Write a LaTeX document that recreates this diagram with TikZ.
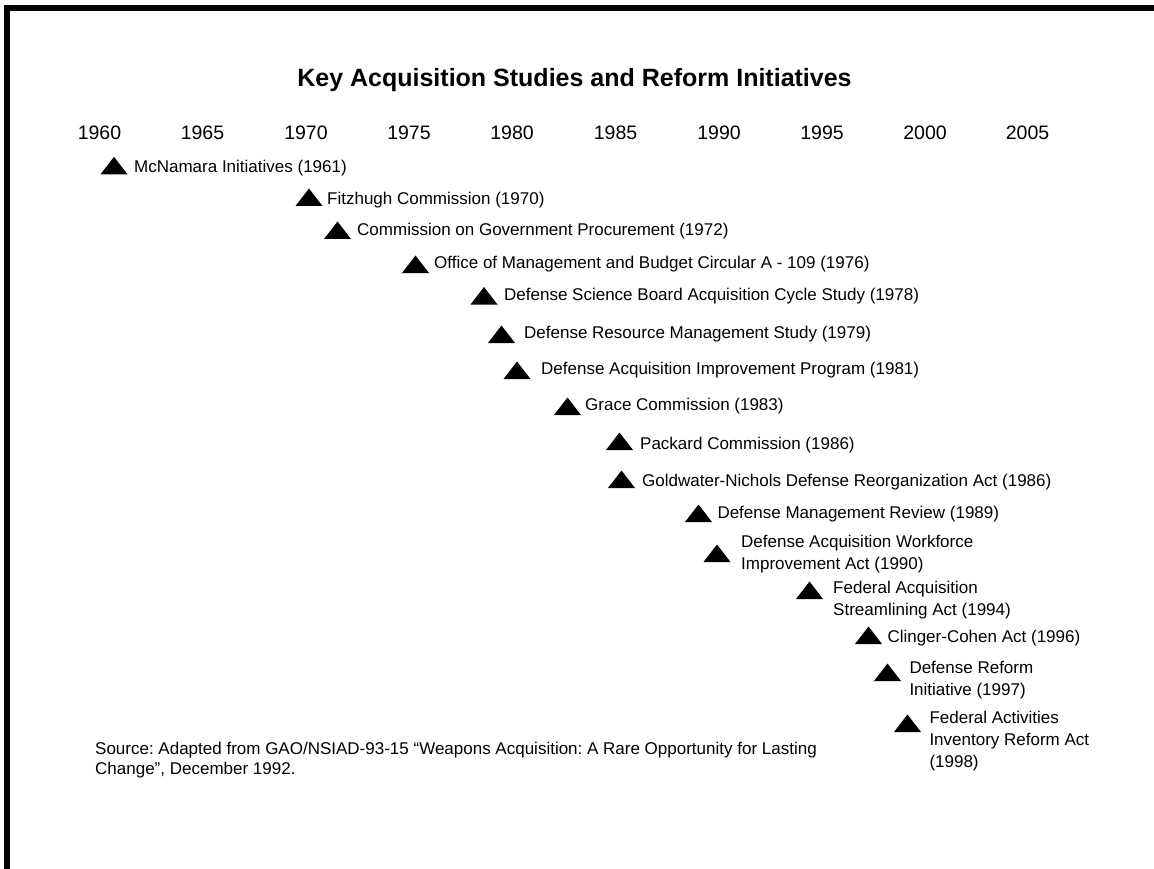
\documentclass[tikz,border=0pt]{standalone}
\usepackage{fontspec}
\setmainfont{Liberation Sans}
\newcommand\mlines[1]{\begin{tabular}[t]{@{}l@{}}#1\end{tabular}}
\begin{document}
\frenchspacing
\begin{tikzpicture}[x=1pt,y=-1pt,
  lbl/.style={font=\fontsize{17}{22}\selectfont, inner sep=0pt, anchor=base west},
  yr/.style={font=\fontsize{19.5}{23}\selectfont, inner sep=0pt, anchor=base},
  tri/.pic={\fill[black] (-13.5,0) -- (0,-17.5) -- (13.5,0) -- cycle;}]
\useasboundingbox (0,0) rectangle (1154,869);
\fill[white] (0,0) rectangle (1154,869);
\draw[line width=6pt] (7,869) -- (7,8) -- (1154,8);

\node[font=\bfseries\fontsize{25}{30}\selectfont, inner sep=0pt, anchor=base] (title) at (574.5,87) {Key Acquisition Studies and Reform Initiatives};

\node[yr] (y1960) at (99.5,139.5) {1960};
\node[yr] (y1965) at (202.5,139.5) {1965};
\node[yr] (y1970) at (306,139.5) {1970};
\node[yr] (y1975) at (409,139.5) {1975};
\node[yr] (y1980) at (512,139.5) {1980};
\node[yr] (y1985) at (615.5,139.5) {1985};
\node[yr] (y1990) at (719,139.5) {1990};
\node[yr] (y1995) at (822,139.5) {1995};
\node[yr] (y2000) at (925,139.5) {2000};
\node[yr] (y2005) at (1027.5,139.5) {2005};

\pic (t1) at (114,174.3) {tri};
\node[lbl] (l1) at (134,172.7) {McNamara Initiatives (1961)};
\pic (t2) at (309,206) {tri};
\node[lbl] (l2) at (327,205) {Fitzhugh Commission (1970)};
\pic (t3) at (337.5,239) {tri};
\node[lbl] (l3) at (357,235.5) {Commission on Government Procurement (1972)};
\pic (t4) at (415.5,273) {tri};
\node[lbl] (l4) at (434,268.5) {Office of Management and Budget Circular A - 109 (1976)};
\pic (t5) at (484,304.5) {tri};
\node[lbl] (l5) at (504,300.5) {Defense Science Board Acquisition Cycle Study (1978)};
\pic (t6) at (501.5,343) {tri};
\node[lbl] (l6) at (524,338.3) {Defense Resource Management Study (1979)};
\pic (t7) at (517,379) {tri};
\node[lbl] (l7) at (541,374) {Defense Acquisition Improvement Program (1981)};
\pic (t8) at (567.5,415) {tri};
\node[lbl] (l8) at (585,410.7) {Grace Commission (1983)};
\pic (t9) at (619.5,450) {tri};
\node[lbl] (l9) at (640,449.3) {Packard Commission (1986)};
\pic (t10) at (621.5,488) {tri};
\node[lbl] (l10) at (642,486.7) {Goldwater-Nichols Defense Reorganization Act (1986)};
\pic (t11) at (698.5,522) {tri};
\node[lbl] (l11) at (717.3,518.3) {Defense Management Review (1989)};
\pic (t12) at (717,562) {tri};
\node[lbl] (l12) at (741,547) {\mlines{Defense Acquisition Workforce\\Improvement Act (1990)}};
\pic (t13) at (809.5,599) {tri};
\node[lbl] (l13) at (833,593) {\mlines{Federal Acquisition\\Streamlining Act (1994)}};
\pic (t14) at (868.5,644) {tri};
\node[lbl] (l14) at (887.3,642) {Clinger-Cohen Act (1996)};
\pic (t15) at (887.5,681) {tri};
\node[lbl] (l15) at (909.3,673) {\mlines{Defense Reform\\Initiative (1997)}};
\pic (t16) at (907.5,732) {tri};
\node[lbl] (l16) at (929.3,723) {\mlines{Federal Activities\\Inventory Reform Act\\(1998)}};

\node[lbl, font=\fontsize{17}{20}\selectfont] (src) at (95,754) {\mlines{Source: Adapted from GAO/NSIAD-93-15 “Weapons Acquisition: A Rare Opportunity for Lasting\\Change”, December 1992.}};
\end{tikzpicture}
\end{document}
